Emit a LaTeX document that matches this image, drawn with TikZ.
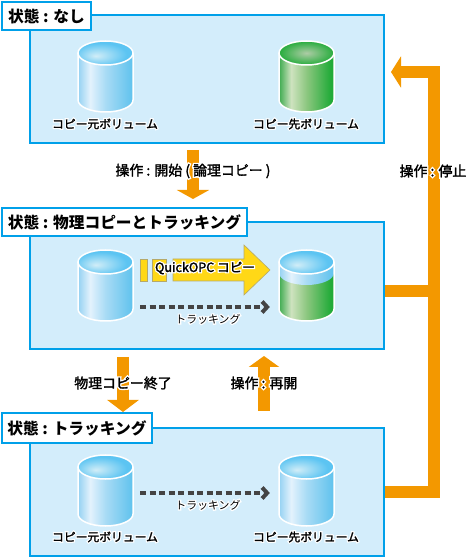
\documentclass[tikz,border=0pt]{standalone}
\usepackage{fontspec}
\usepackage{xcolor}
\usetikzlibrary{arrows.meta, calc}
\setmainfont{Noto Sans CJK JP}
\newfontfamily\halofont{Noto Sans CJK JP}[FakeBold=22]
\newfontfamily\opfont{Noto Sans CJK JP}[FakeBold=2]
\definecolor{panelblue}{HTML}{00A0E9}
\definecolor{panelfill}{HTML}{D3EDFB}
\definecolor{flow}{HTML}{F39800}
\definecolor{copyfill}{HTML}{FFD817}
\definecolor{copyedge}{HTML}{B5A96A}
\definecolor{trackgray}{HTML}{444444}
\pgfdeclarehorizontalshading{bluebody}{100bp}{rgb(0bp)=(0.58,0.82,0.95);rgb(25bp)=(0.58,0.82,0.95);rgb(36bp)=(0.89,0.95,0.99);rgb(50bp)=(0.66,0.86,0.96);rgb(75bp)=(0.37,0.76,0.93);rgb(100bp)=(0.37,0.76,0.93)}
\pgfdeclarehorizontalshading{greenbody}{100bp}{rgb(0bp)=(0.24,0.67,0.31);rgb(25bp)=(0.24,0.67,0.31);rgb(36bp)=(0.81,0.89,0.75);rgb(50bp)=(0.55,0.78,0.50);rgb(72bp)=(0.13,0.67,0.22);rgb(100bp)=(0.13,0.67,0.22)}
\pgfdeclareradialshading{bluetop}{\pgfpoint{-9bp}{-6bp}}{rgb(0bp)=(0.82,0.93,0.97);rgb(24bp)=(0.36,0.77,0.95);rgb(50bp)=(0.36,0.77,0.95)}
\pgfdeclareradialshading{greentop}{\pgfpoint{0bp}{0bp}}{rgb(0bp)=(0.68,0.80,0.65);rgb(26bp)=(0.13,0.67,0.22);rgb(50bp)=(0.13,0.67,0.22)}
\newcommand{\halo}[1]{\rlap{\halofont\color{white}#1}#1}
\newcommand{\opsize}{\fontsize{13.9}{16}\opfont}
% name, x, y of the top ellipse, shade of the body, of the band under the top, of the top
\newcommand{\volume}[6]{
  \node[volbox] (#1) at (#2,#3-23.5) {};
  \begin{scope}[shift={(#2,#3)}]
    \path[shading=#4] (-27.5,0) -- (-27.5,-47) arc[start angle=180, end angle=360, x radius=27.5pt, y radius=12pt] -- (27.5,0) -- cycle;
    \path[shading=#5] (-27.5,0) -- (-27.5,-11) arc[start angle=180, end angle=360, x radius=27.5pt, y radius=12pt] -- (27.5,0) -- cycle;
    \draw[volline] (-27.5,0) -- (-27.5,-47) arc[start angle=180, end angle=360, x radius=27.5pt, y radius=12pt] -- (27.5,0);
    \draw[volline, shading=#6] (0,0) ellipse[x radius=27.5pt, y radius=12pt];
  \end{scope}
}

\begin{document}
\begin{tikzpicture}[x=1pt, y=1pt,
    panel/.style={rectangle, draw=panelblue, line width=2pt, fill=panelfill, minimum width=354pt, outer sep=0pt},
    state/.style={rectangle, draw=panelblue, line width=2pt, fill=white, anchor=north west, inner xsep=0pt, inner ysep=0pt, font=\fontsize{15.7}{17}\selectfont\bfseries, outer sep=0pt},
    volbox/.style={rectangle, minimum width=55pt, minimum height=71pt, inner sep=0pt},
    volline/.style={draw=white, line width=1.5pt},
    vollabel/.style={font=\fontsize{11.8}{14}\opfont, inner sep=0pt},
    oplabel/.style={font=\opsize, inner sep=0pt},
    tracklabel/.style={font=\fontsize{10.9}{12}\selectfont, inner sep=0pt},
    ar/.style={draw=flow, line width=12pt, line join=miter},
    track/.style={draw=trackgray, line width=3.4pt, dash pattern=on 6pt off 3.5pt, -{Straight Barb[length=5pt, width=11pt, line width=4pt]}},
    copybar/.style={draw=copyedge, line width=0.6pt, fill=copyfill}]

\useasboundingbox (0,0) rectangle (468,558);

% Panels
\node[panel, minimum height=128pt] (pa) at (207,479) {};
\node[panel, minimum height=127pt] (pb) at (207,272.5) {};
\node[panel, minimum height=128pt] (pc) at (207,66) {};

% State labels
\node[state, minimum width=89pt, minimum height=28pt] (sa) at (2,556) {\halo{状態 : なし}};
\node[state, minimum width=245pt, minimum height=28pt] (sb) at (2,350) {\halo{状態 : 物理コピーとトラッキング}};
\node[state, minimum width=150pt, minimum height=30pt] (sc) at (2,145) {\halo{状態 : トラッキング}};

% Volumes
\volume{va}{105.5}{505}{bluebody}{bluebody}{bluetop}
\volume{vb}{306.5}{505}{greenbody}{greenbody}{greentop}
\volume{vc}{105.5}{296}{bluebody}{bluebody}{bluetop}
\volume{vd}{306.5}{296}{greenbody}{bluebody}{bluetop}
\volume{ve}{105.5}{91}{bluebody}{bluebody}{bluetop}
\volume{vf}{306.5}{91}{bluebody}{bluebody}{bluetop}

\node[vollabel] (na) at (105,434) {\halo{コピー元ボリューム}};
\node[vollabel] (nb) at (306,434) {\halo{コピー先ボリューム}};
\node[vollabel] (ne) at (105,21) {\halo{コピー元ボリューム}};
\node[vollabel] (nf) at (306,21) {\halo{コピー先ボリューム}};

% Operation arrows
\draw[ar, -{Triangle[width=32pt, length=9pt]}] ([xshift=-14pt, yshift=-7pt]pa.south) -- ([xshift=-14pt, yshift=23pt]pb.north);
\draw[ar, -{Triangle[width=31pt, length=12pt]}] ([xshift=-84pt, yshift=-8pt]pb.south) -- ([xshift=-84pt, yshift=16pt]pc.north);
\draw[ar, -{Triangle[width=30pt, length=11pt]}] ([xshift=57pt, yshift=17pt]pc.north) -- ([xshift=57pt, yshift=-7pt]pb.south);

% Stop line
\coordinate (fbtop) at (433.5,486);
\draw[ar] ([xshift=1pt, yshift=-5.5pt]pb.east) -- (fbtop |- 0,267);
\draw[ar, -{Triangle[width=31pt, length=10pt]}] ([xshift=1pt]pc.east) -| (fbtop) -- ([xshift=7pt, yshift=7pt]pa.east);

\node[oplabel] (oa) at (193,387) {\halo{操作 : 開始 ( 論理コピー )}};
\node[oplabel] (ob) at (433,387) {\halo{操作 : 停止}};
\node[oplabel] (oc) at (123,175) {\halo{物理コピー終了}};
\node[oplabel] (od) at (264,175) {\halo{操作 : 再開}};

% Copy arrow
\path[copybar] (140,299) rectangle (147,277);
\path[copybar] (152,299) rectangle (166,277);
\path[copybar] (173,299) -- (244,299) -- (244,313) -- (270,288) -- (244,263) -- (244,277) -- (173,277) -- cycle;
\node[font=\fontsize{12.6}{15}\opfont, inner sep=0pt] (qc) at (205,290) {\halo{QuickOPC コピー}};

% Tracking
\draw[track] ([xshift=7pt, yshift=-21.5pt]vc.east) -- ([xshift=-9pt, yshift=-21.5pt]vd.west);
\draw[track] ([xshift=7pt, yshift=-2.5pt]ve.east) -- ([xshift=-9pt, yshift=-2.5pt]vf.west);
\node[tracklabel] (ta) at (208,239) {\halo{トラッキング}};
\node[tracklabel] (tb) at (208,53) {\halo{トラッキング}};

\end{tikzpicture}
\end{document}
